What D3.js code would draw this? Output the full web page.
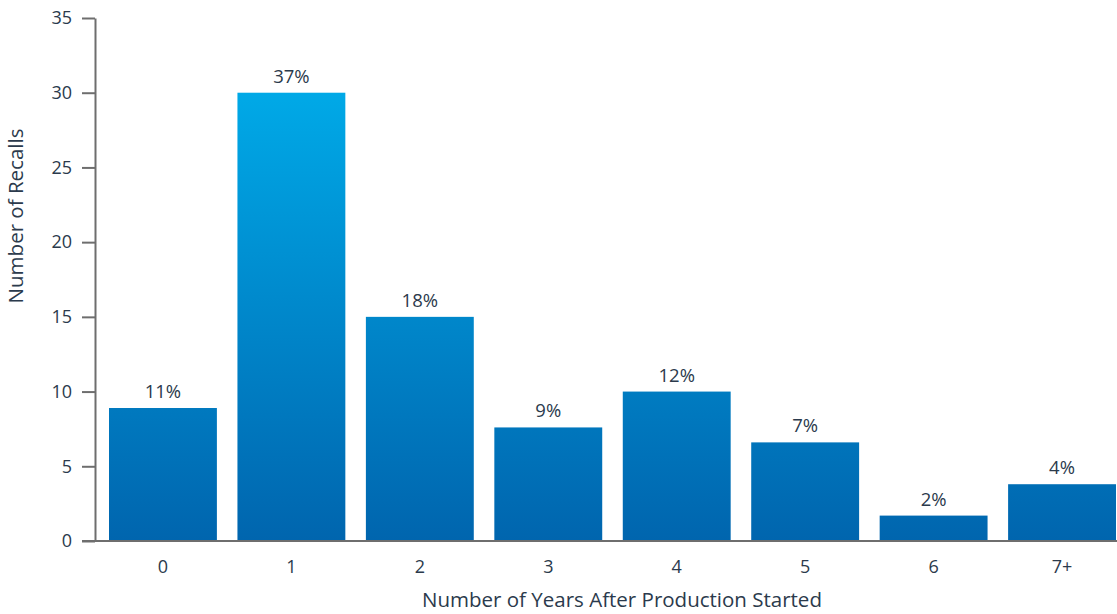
<!DOCTYPE html>
<html>
<head>
<meta charset="utf-8">
<script src="https://cdn.jsdelivr.net/npm/d3@7"></script>
<style>
  html, body { margin: 0; padding: 0; background: #fff; }
  svg { display: block; font-family: "Open Sans", Lato, sans-serif; }
</style>
</head>
<body>
<svg id="chart" width="1117" height="614"></svg>
<script>
const categories = ["0", "1", "2", "3", "4", "5", "6", "7+"];
const recalls = [8.9, 30, 15, 7.6, 10, 6.6, 1.7, 3.8];
const shareLabels = ["11%", "37%", "18%", "9%", "12%", "7%", "2%", "4%"];
const yTicks = [0, 5, 10, 15, 20, 25, 30, 35];

const svg = d3.select("#chart");
const W = 1117, H = 614;
const m = { left: 95, top: 18, bottom: 73 };
const textColor = "#2b3a4c";
const axisColor = "#6e6e6e";
const font = "'Open Sans', Lato, sans-serif";

const x = d3.scaleBand()
  .domain(categories)
  .range([m.left, 1130])
  .paddingInner(0.16)
  .paddingOuter(0.109);

const y = d3.scaleLinear().domain([0, 35]).range([H - m.bottom, m.top]);

const defs = svg.append("defs");
const grad = defs.append("linearGradient")
  .attr("id", "barGrad")
  .attr("gradientUnits", "userSpaceOnUse")
  .attr("x1", 0).attr("x2", 0)
  .attr("y1", y(30)).attr("y2", y(0));
grad.append("stop").attr("offset", 0).attr("stop-color", "#00a9e7");
grad.append("stop").attr("offset", 1).attr("stop-color", "#0065ae");

// bars
svg.append("g").selectAll("rect")
  .data(recalls)
  .join("rect")
  .attr("x", (d, i) => x(categories[i]))
  .attr("width", x.bandwidth())
  .attr("y", d => y(d))
  .attr("height", d => y(0) - y(d))
  .attr("fill", "url(#barGrad)");

// bar labels
svg.append("g").selectAll("text")
  .data(recalls)
  .join("text")
  .attr("x", (d, i) => x(categories[i]) + x.bandwidth() / 2)
  .attr("y", d => y(d) - 10)
  .attr("text-anchor", "middle")
  .attr("font-size", 18.5)
  .attr("fill", textColor)
  .text((d, i) => shareLabels[i]);

// y axis
const yAxis = svg.append("g")
  .attr("transform", `translate(${m.left},0)`)
  .call(d3.axisLeft(y).tickValues(yTicks).tickSize(13).tickSizeOuter(0).tickPadding(10));
yAxis.select(".domain").attr("stroke", axisColor).attr("stroke-width", 2);
yAxis.selectAll(".tick line").attr("stroke", axisColor).attr("stroke-width", 2);
yAxis.selectAll(".tick text").attr("fill", textColor).attr("font-size", 18)
  .attr("font-family", font);

// x axis
const xAxis = svg.append("g")
  .attr("transform", `translate(0,${y(0)})`)
  .call(d3.axisBottom(x).tickSize(0).tickPadding(19));
xAxis.select(".domain").remove();
xAxis.append("line")
  .attr("x1", m.left - 13).attr("x2", W)
  .attr("y1", 0).attr("y2", 0)
  .attr("stroke", axisColor).attr("stroke-width", 2);
xAxis.selectAll(".tick text").attr("fill", textColor).attr("font-size", 18)
  .attr("font-family", font);

// axis titles
svg.append("text")
  .attr("x", 622).attr("y", 607)
  .attr("text-anchor", "middle")
  .attr("font-size", 20.5)
  .attr("fill", textColor)
  .text("Number of Years After Production Started");

svg.append("text")
  .attr("transform", `translate(23,216) rotate(-90)`)
  .attr("text-anchor", "middle")
  .attr("font-size", 20.5)
  .attr("fill", textColor)
  .text("Number of Recalls");
</script>
</body>
</html>
